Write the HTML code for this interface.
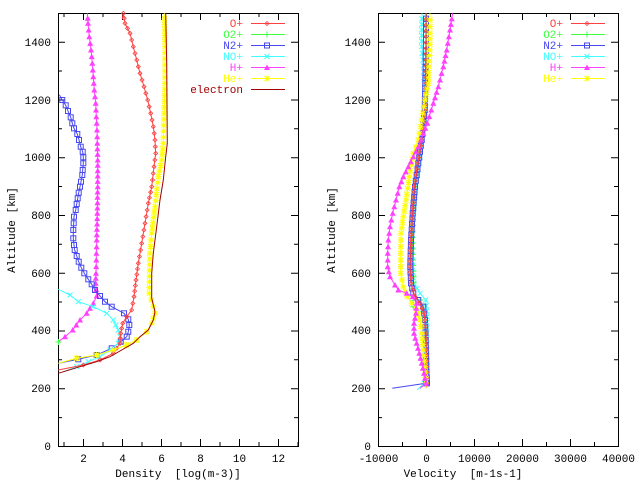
<!DOCTYPE html>
<html><head><meta charset="utf-8"><style>
html,body{margin:0;padding:0;background:#fff;}
svg{display:block;}
text{font-family:"Liberation Mono","DejaVu Sans Mono",monospace;font-size:11px;}
</style></head><body>
<svg id="s" width="640" height="480" viewBox="0 0 640 480" xmlns="http://www.w3.org/2000/svg">
<defs>
<marker id="mo" markerWidth="5" markerHeight="5" refX="2.5" refY="2.5" markerUnits="userSpaceOnUse"><path d="M2.5 0.5L4.5 2.5L2.5 4.5L0.5 2.5Z" fill="none" stroke="#ff4040" stroke-width="0.8"/></marker>
<marker id="mn" markerWidth="7" markerHeight="7" refX="3.5" refY="3.5" markerUnits="userSpaceOnUse"><rect x="1" y="1" width="5" height="5" fill="none" stroke="#4848f0" stroke-width="1"/></marker>
<marker id="mh" markerWidth="7" markerHeight="7" refX="3.5" refY="3.5" markerUnits="userSpaceOnUse"><path d="M3.5 0.5L6.5 6L0.5 6Z" fill="#ff40ff"/></marker>
<marker id="my" markerWidth="7" markerHeight="7" refX="3.5" refY="3.5" markerUnits="userSpaceOnUse"><path d="M0.5 3.5H6.5M3.5 0.5V6.5M1 1L6 6M6 1L1 6" stroke="#ffff00" stroke-width="1"/></marker>
<marker id="mc" markerWidth="7" markerHeight="7" refX="3.5" refY="3.5" markerUnits="userSpaceOnUse"><path d="M1 1L6 6M6 1L1 6" stroke="#40ffff" stroke-width="1"/></marker>
<marker id="mg" markerWidth="7" markerHeight="7" refX="3.5" refY="3.5" markerUnits="userSpaceOnUse"><path d="M0.5 3.5H6.5M3.5 0.5V6.5" stroke="#40ff40" stroke-width="1"/></marker>
</defs>

<g>
<rect x="58.5" y="13.5" width="240" height="433" fill="none" stroke="#000"/>
<g stroke="#000" stroke-width="1">
<path d="M58 446.5h7M58 388.7h7M58 331h7M58 273.2h7M58 215.5h7M58 157.7h7M58 100h7M58 42.2h7
M298 446.5h-7M298 388.7h-7M298 331h-7M298 273.2h-7M298 215.5h-7M298 157.7h-7M298 100h-7M298 42.2h-7
M58 417.6h4M58 359.8h4M58 302h4M58 244.3h4M58 186.5h4M58 128.8h4M58 71h4
M298 417.6h-4M298 359.8h-4M298 302h-4M298 244.3h-4M298 186.5h-4M298 128.8h-4M298 71h-4
M83.5 446v-7M122.5 446v-7M161.5 446v-7M200.5 446v-7M239.5 446v-7M278.5 446v-7
M83.5 13v7M122.5 13v7M161.5 13v7M200.5 13v7M239.5 13v7M278.5 13v7
M64 446v-4M103 446v-4M142 446v-4M181 446v-4M220 446v-4M259 446v-4M298 446v-4
M64 13v4M103 13v4M142 13v4M181 13v4M220 13v4M259 13v4"/>
</g>
<g text-anchor="end">
<text x="51" y="450">0</text><text x="51" y="392">200</text><text x="51" y="334">400</text>
<text x="51" y="277">600</text><text x="51" y="219">800</text><text x="51" y="161">1000</text>
<text x="51" y="104">1200</text><text x="51" y="46">1400</text>
</g>
<g text-anchor="middle">
<text x="83.5" y="462">2</text><text x="122.5" y="462">4</text><text x="161.5" y="462">6</text>
<text x="200.5" y="462">8</text><text x="239.5" y="462">10</text><text x="278.5" y="462">12</text>
<text x="178" y="477" xml:space="preserve">Density  [log(m-3)]</text>
<text transform="translate(15,230) rotate(-90)">Altitude [km]</text>
</g>
<g fill="none" stroke-width="1">
<polyline class="d" stroke="#ff40ff" marker-mid="url(#mh)" points="87.3,13.3 88,23.3 89.3,36.7 91,50 92.3,63.3 93.3,76.7 94.3,90 95.7,103.3 96.3,116.7 97,130 97.3,143.3 97.7,160 97.7,186.7 97.3,213.3 96.7,240 96.3,260 96,273.3 95.7,283.3 96.7,296 93.3,303.3 86.7,313.3 80,320 72.7,330 65,336.7 58.3,341.7"/>
<polyline class="d" stroke="#4848f0" marker-mid="url(#mn)" points="59.3,94.7 62.3,100 65.7,105.3 68,111 70.7,117.3 72.3,123.3 74,128.3 77.3,134 79,140 80.7,146.7 82.7,151.7 83.3,157.3 83.3,163.3 82.7,170 82.3,175 81,181.7 80,186.7 78.7,192.7 77.7,198.3 76.7,204 75.7,210 74,216.7 73.7,223.3 73.3,230 73.3,238.3 74,245 74.7,250 76.7,256 78.7,261.7 81.3,267.7 84.3,273.3 88.3,279.3 91.7,284.3 95,290 100,296 105,301.7 111.7,306.7 124,313.3 128.3,319.3 129.3,325 128.3,331.7 126.7,336.7 120.7,341.7 111.7,348.3 96.7,355 78.3,359.3 58.3,363.3"/>
<polyline class="d" stroke="#40ffff" marker-mid="url(#mc)" points="58.3,289.3 70,295 78.3,301.7 93.3,306.7 106.7,313.3 113.3,320 118.3,330 120,336.7 118.3,343.3 110,350 100,356.7 88.3,361.7 76.7,366.7 63.3,371.7"/>
<polyline class="d" stroke="#ff4040" marker-mid="url(#mo)" points="122.3,19 123.3,13.3 125,23.3 130,33.3 133.3,46.7 136.7,60 140,73.3 144,86.7 147.7,100 150.7,113.3 153.3,126.7 155,140 155.7,153.3 154,166.7 151.7,186.7 148.3,203.3 145,223.3 141.7,243.3 138.3,263.3 136,280 134,296.7 131.7,310 126.7,316.7 122.7,323.3 120.7,333.3 120,343.3 113.3,353.3 100,360 83.3,365 58.3,370"/>
<polyline class="d" stroke="#ffff00" marker-mid="url(#my)" points="164.3,13.3 165,46.7 165,83.3 163.3,143.3 161.7,160 158.3,176.7 155,206.7 151.7,233.3 150,253.3 149.3,293.3 153.3,306.7 155,313.3 151.7,323.3 146.7,331.7 136.7,340 126.7,345 113.3,350 96.7,355 76.7,358.3 58.3,363.3"/>
<polyline stroke="#a00000" points="165.7,13.3 166.7,63.3 167.3,143.3 165.7,156.7 163.3,180 160,200 156.7,226.7 153.3,253.3 151.7,273.3 151.7,298.3 155,311.7 153.3,320 148.3,330 140,336.7 133.3,343.3 121.7,350 110,356.7 96.7,361.7 80,366.7 58.3,373.3"/>
<polyline stroke="#40ff40" marker-mid="url(#mg)" marker-start="url(#mg)" points="58.5,342 59,342"/>
</g>
<g text-anchor="end">
<text x="243" y="27" fill="#ff4040">O+</text>
<text x="243" y="38" fill="#40ff40">O2+</text>
<text x="243" y="49" fill="#4848f0">N2+</text>
<text x="243" y="60" fill="#40ffff">NO+</text>
<text x="243" y="71" fill="#ff40ff">H+</text>
<text x="243" y="82" fill="#ffff00">He+</text>
<text x="243" y="93" fill="#a00000">electron</text>
</g>
<g stroke-width="1" fill="none">
<polyline stroke="#ff4040" marker-mid="url(#mo)" points="251,23.5 267,23.5 285,23.5"/>
<polyline stroke="#40ff40" marker-mid="url(#mg)" points="251,34.5 267,34.5 285,34.5"/>
<polyline stroke="#4848f0" marker-mid="url(#mn)" points="251,45.5 267,45.5 285,45.5"/>
<polyline stroke="#40ffff" marker-mid="url(#mc)" points="251,56.5 267,56.5 285,56.5"/>
<polyline stroke="#ff40ff" marker-mid="url(#mh)" points="251,67.5 267,67.5 285,67.5"/>
<polyline stroke="#ffff00" marker-mid="url(#my)" points="251,78.5 267,78.5 285,78.5"/>
<polyline stroke="#a00000" points="251,89.5 285,89.5"/>
</g>
</g>

<g transform="translate(320,0)">
<rect x="58.5" y="13.5" width="240" height="433" fill="none" stroke="#000"/>
<g stroke="#000" stroke-width="1">
<path d="M58 446.5h7M58 388.7h7M58 331h7M58 273.2h7M58 215.5h7M58 157.7h7M58 100h7M58 42.2h7
M298 446.5h-7M298 388.7h-7M298 331h-7M298 273.2h-7M298 215.5h-7M298 157.7h-7M298 100h-7M298 42.2h-7
M58 417.6h4M58 359.8h4M58 302h4M58 244.3h4M58 186.5h4M58 128.8h4M58 71h4
M298 417.6h-4M298 359.8h-4M298 302h-4M298 244.3h-4M298 186.5h-4M298 128.8h-4M298 71h-4
M106.5 446v-7M154.5 446v-7M202.5 446v-7M250.5 446v-7
M106.5 13v7M154.5 13v7M202.5 13v7M250.5 13v7
M82.5 446v-4M130.5 446v-4M178.5 446v-4M226.5 446v-4M274.5 446v-4
M82.5 13v4M130.5 13v4M178.5 13v4M226.5 13v4M274.5 13v4"/>
</g>
<g text-anchor="end">
<text x="51" y="450">0</text><text x="51" y="392">200</text><text x="51" y="334">400</text>
<text x="51" y="277">600</text><text x="51" y="219">800</text><text x="51" y="161">1000</text>
<text x="51" y="104">1200</text><text x="51" y="46">1400</text>
</g>
<g text-anchor="middle">
<text x="58.5" y="462">-10000</text><text x="106.5" y="462">0</text><text x="154.5" y="462">10000</text>
<text x="202.5" y="462">20000</text><text x="250.5" y="462">30000</text><text x="298.5" y="462">40000</text>
<text x="143" y="477" xml:space="preserve">Velocity  [m-1s-1]</text>
<text transform="translate(15,230) rotate(-90)">Altitude [km]</text>
</g>
<g fill="none" stroke-width="1">
<polyline class="d" stroke="#40ffff" marker-mid="url(#mc)" points="102,13.3 101.7,30 101.7,46.7 103,60 104.3,83.3 105.7,103.3 105,116.7 102,140 99,163.3 95.7,186.7 93.3,213.3 92,240 92.3,266.7 94,283.3 100,293.3 105.7,300 107,316.7 106.7,333.3 107,366.7 104.3,383.3 97,390"/>
<polyline class="d" stroke="#40ff40" marker-mid="url(#mg)" points="106.3,13.3 106.3,83.3 105,110 101.7,140 98.3,163.3 95,186.7 93.3,213.3 92.3,243.3 93.7,276.7 93.3,306.7 100,300 104.7,316.7 106,333.3 106.3,383.3 100,388.3"/>
<polyline class="d" stroke="#4848f0" marker-mid="url(#mn)" points="106,13.3 106,40 105.3,83.3 104.7,110 101.7,140 98.3,163.3 95,186.7 92.7,213.3 91,240 90.3,266.7 91,283.3 93.3,293.3 98.3,300 103.3,306.7 105,320 105.7,340 106.3,366.7 107,383.3 106,383.3 72.3,388.3"/>
<polyline class="d" stroke="#ff4040" marker-mid="url(#mo)" points="106,13.3 106,83.3 105,110 101.7,140 97.7,163.3 94.3,186.7 92.3,213.3 90.7,240 90,266.7 91,283.3 95,296.7 100,303.3 104.3,313.3 106,333.3 106.7,366.7 107,383.3 106,388.3"/>
<polyline class="d" stroke="#ffff00" marker-mid="url(#my)" points="110,13.3 110,33.3 109.7,50 108.3,83.3 105,100 101.7,120 98.3,140 93.3,153.3 89.3,176.7 86,200 83.3,216.7 81,233.3 80.7,253.3 80.7,273.3 83.3,286.7 87.3,296.7 91.7,303.3 96.7,310 100,320 101.7,333.3 103.3,350 105,366.7 106,388.3"/>
<polyline class="d" stroke="#ff40ff" marker-mid="url(#mh)" points="132.7,13.3 130,30 126.7,50 123.3,66.7 118.3,86.7 113.3,103.3 107.3,123.3 103.3,133.3 98.3,146.7 93.3,156.7 88.3,166.7 83.3,176.7 79.3,186.7 76,200 72.7,213.3 70,226.7 68.3,240 67.7,253.3 67.7,266.7 70,276.7 75,285 78.3,290 86.7,293.3 92.7,296.7 96.7,303.3 96,313.3 94,323.3 94,333.3 96.7,343.3 99.3,353.3 101.7,363.3 104,373.3 106,383.3 100,388.3"/>
</g>
<g text-anchor="end">
<text x="243" y="27" fill="#ff4040">O+</text>
<text x="243" y="38" fill="#40ff40">O2+</text>
<text x="243" y="49" fill="#4848f0">N2+</text>
<text x="243" y="60" fill="#40ffff">NO+</text>
<text x="243" y="71" fill="#ff40ff">H+</text>
<text x="243" y="82" fill="#ffff00">He+</text>
</g>
<g stroke-width="1" fill="none">
<polyline stroke="#ff4040" marker-mid="url(#mo)" points="251,23.5 267,23.5 285,23.5"/>
<polyline stroke="#40ff40" marker-mid="url(#mg)" points="251,34.5 267,34.5 285,34.5"/>
<polyline stroke="#4848f0" marker-mid="url(#mn)" points="251,45.5 267,45.5 285,45.5"/>
<polyline stroke="#40ffff" marker-mid="url(#mc)" points="251,56.5 267,56.5 285,56.5"/>
<polyline stroke="#ff40ff" marker-mid="url(#mh)" points="251,67.5 267,67.5 285,67.5"/>
<polyline stroke="#ffff00" marker-mid="url(#my)" points="251,78.5 267,78.5 285,78.5"/>
</g>
</g>
</svg>
<script>
(function(){
var ls=document.querySelectorAll('polyline.d');
for(var k=0;k<ls.length;k++){
 var pl=ls[k],pts=pl.getAttribute('points').trim().split(/\s+/).map(function(s){var a=s.split(',');return [+a[0],+a[1]];});
 var out=[pts[0]],step=5.77;
 for(var i=1;i<pts.length;i++){
  var a=pts[i-1],b=pts[i],dy=Math.abs(b[1]-a[1]),n=Math.max(1,Math.round(dy/step));
  for(var j=1;j<=n;j++){var t=j/n;out.push([a[0]+(b[0]-a[0])*t,a[1]+(b[1]-a[1])*t]);}
 }
 pl.setAttribute('points',out.map(function(p){return p[0].toFixed(1)+','+p[1].toFixed(1);}).join(' '));
}
})();
</script>
</body></html>
